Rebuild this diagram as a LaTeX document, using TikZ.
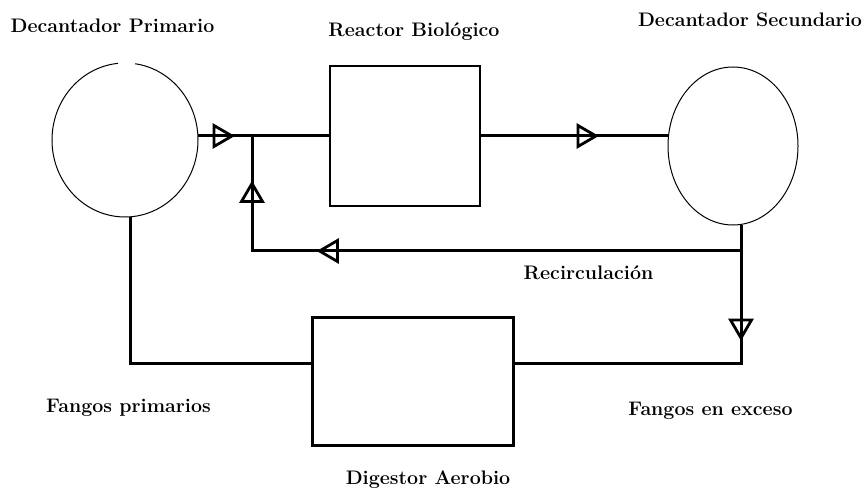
\documentclass[tikz,border=0pt]{standalone}
\usetikzlibrary{shapes.geometric}
\begin{document}
\begin{tikzpicture}[x=1bp,y=-1bp,
  lbl/.style={font=\fontsize{19.6bp}{22bp}\selectfont\bfseries, inner sep=0pt, anchor=base},
  tank/.style={ellipse, inner sep=0pt},
  unitbox/.style={rectangle, draw, inner sep=0pt},
  pipe/.style={line width=3bp},
  tankline/.style={line width=1bp},
  pics/flowtri/.style={code={
    \draw[line width=2.8bp, line join=miter] (-9,-10.5) -- (9,0) -- (-9,10.5) -- cycle;}}
]
\useasboundingbox[fill=white] (0,0) rectangle (864,494);

% tanks and process units
\node[tank, minimum width=146bp, minimum height=154bp] (dp) at (125,140) {};
\draw[tankline] (dp.center) ++(278:73 and 77)
  arc[start angle=278, end angle=624.5, x radius=73, y radius=77];
\node[tank, draw, tankline, minimum width=130bp, minimum height=158bp] (ds) at (733,146) {};
\node[unitbox, line width=2bp, minimum width=150bp, minimum height=140bp] (rb) at (405,136) {};
\node[unitbox, line width=3bp, minimum width=201bp, minimum height=127bp] (da) at (412.5,381.5) {};

% junctions of the pipe network
\coordinate (j) at (252,136);
\coordinate (r) at (252,251);
\coordinate (s) at (741,251);
\coordinate (e) at (741,363);
\coordinate (f) at (130,363);

% pipes
\draw[pipe] (rb.west -| dp.east) -- (rb.west);
\draw[pipe] (rb.east) -- (ds.west |- rb.east);
\draw[pipe] (j) -- (r) -- (s);
\draw[pipe] (ds.south -| s) -- (e) -- (da.east |- e);
\draw[pipe] (dp.south -| f) -- (f) -- (da.west |- f);

% flow direction marks
\pic at (223,136) {flowtri};
\pic at (587,136) {flowtri};
\pic[rotate=90] at (252,192.5) {flowtri};
\pic[rotate=180] at (328.5,251) {flowtri};
\pic[rotate=-90] at (741,329) {flowtri};

% labels
\node[lbl] (t1) at (112.5,33) {Decantador Primario};
\node[lbl] (t2) at (414,37) {Reactor Biológico};
\node[lbl] (t3) at (750,27) {Decantador Secundario};
\node[lbl] (t4) at (588.5,280) {Recirculación};
\node[lbl] (t5) at (128.5,412) {Fangos primarios};
\node[lbl] (t6) at (710.5,415) {Fangos en exceso};
\node[lbl] (t7) at (428,484) {Digestor Aerobio};
\end{tikzpicture}
\end{document}
